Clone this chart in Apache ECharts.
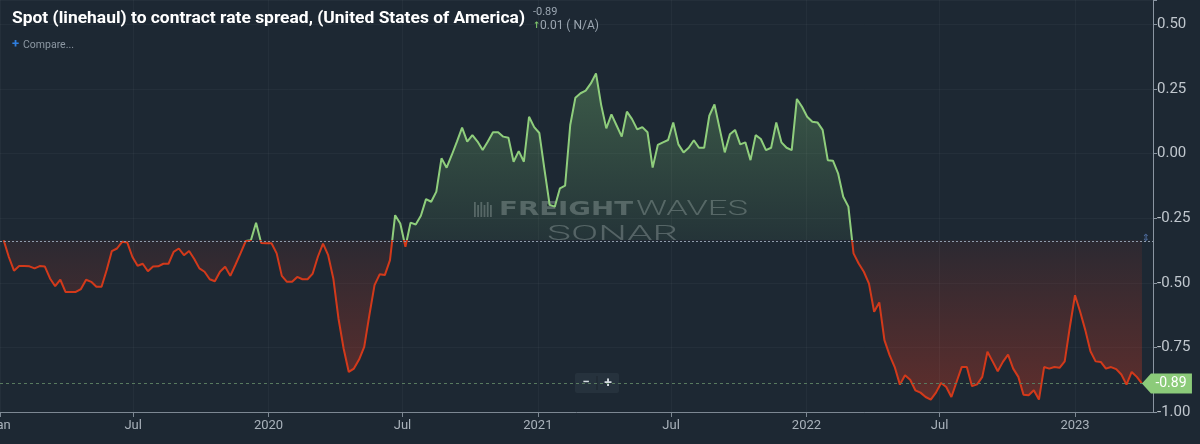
<!DOCTYPE html>
<html>
<head>
<meta charset="utf-8">
<script src="https://cdn.jsdelivr.net/npm/echarts@6/dist/echarts.min.js"></script>
<style>
  html, body { margin: 0; padding: 0; background: #1d2833; }
  #chart { width: 1200px; height: 444px; }
</style>
</head>
<body>
<div id="chart"></div>
<script>
const titleText = 'Spot (linehaul) to contract rate spread, (United States of America)';
const latestText = '-0.89';
const changeText = '0.01 ( N/A)';

// weekly readings, first week of 2019 to early April 2023
const startDate = '2019-01-06';
const stepDays = 7;
const spread = [
  -0.335, -0.40, -0.453, -0.435, -0.435, -0.436, -0.444, -0.435, -0.437, -0.483,
  -0.513, -0.488, -0.535, -0.535, -0.535, -0.524, -0.488, -0.496, -0.515, -0.515,
  -0.45, -0.377, -0.367, -0.341, -0.344, -0.40, -0.434, -0.426, -0.455, -0.437,
  -0.436, -0.426, -0.426, -0.380, -0.367, -0.393, -0.377, -0.408, -0.444, -0.457,
  -0.486, -0.494, -0.457, -0.438, -0.473, -0.43, -0.385, -0.338, -0.335, -0.267,
  -0.346, -0.347, -0.347, -0.386, -0.473, -0.496, -0.496, -0.477, -0.486, -0.486,
  -0.464, -0.399, -0.348, -0.393, -0.483, -0.638, -0.754, -0.845, -0.832, -0.797,
  -0.748, -0.625, -0.509, -0.467, -0.470, -0.412, -0.238, -0.270, -0.360, -0.267,
  -0.274, -0.240, -0.176, -0.186, -0.147, -0.018, -0.054, -0.005, 0.047, 0.101,
  0.047, 0.072, 0.047, 0.014, 0.047, 0.083, 0.083, 0.066, 0.062, -0.031,
  0.010, -0.031, 0.143, 0.103, 0.080, -0.062, -0.198, -0.205, -0.134, -0.124,
  0.111, 0.217, 0.234, 0.244, 0.272, 0.311, 0.189, 0.098, 0.152, 0.109,
  0.066, 0.163, 0.134, 0.094, 0.103, 0.083, -0.054, 0.034, 0.044, 0.053,
  0.121, 0.036, 0.005, 0.023, 0.052, 0.023, 0.023, 0.147, 0.191, 0.098,
  0.005, 0.075, 0.092, 0.036, 0.044, -0.025, 0.072, 0.057, 0.014, 0.023,
  0.121, 0.044, 0.023, 0.014, 0.212, 0.182, 0.143, 0.124, 0.121, 0.092,
  -0.025, -0.027, -0.076, -0.167, -0.205, -0.386, -0.425, -0.457, -0.503, -0.612,
  -0.576, -0.722, -0.780, -0.826, -0.894, -0.858, -0.875, -0.916, -0.925, -0.942,
  -0.952, -0.925, -0.888, -0.903, -0.942, -0.884, -0.826, -0.826, -0.900, -0.893,
  -0.864, -0.767, -0.804, -0.842, -0.806, -0.778, -0.832, -0.864, -0.933, -0.935,
  -0.916, -0.952, -0.826, -0.832, -0.826, -0.829, -0.804, -0.671, -0.548, -0.612,
  -0.683, -0.765, -0.804, -0.806, -0.832, -0.826, -0.834, -0.855, -0.894, -0.845,
  -0.864, -0.89
];

const axisStart = '2019-01-01';
const axisEnd = '2023-04-17';
const tickDates = ['2019-01-01', '2019-07-01', '2020-01-01', '2020-07-01', '2021-01-01',
  '2021-07-01', '2022-01-01', '2022-07-01', '2023-01-01'];
const tickLabels = ['Jan', 'Jul', '2020', 'Jul', '2021', 'Jul', '2022', 'Jul', '2023'];
const yMin = -1, yMax = 0.595, yStep = 0.25, yTop = 0.5;

const DAY = 86400000;
const toTime = (d) => +echarts.time.parse(d);
const t0 = toTime(startDate);
const points = spread.map((v, i) => [t0 + i * stepDays * DAY, v]);
const tickTimes = tickDates.map(toTime);
const base = spread[0];
const last = points[points.length - 1];
const maxV = Math.max(...spread);
const minV = Math.min(...spread);
const split = (maxV - base) / (maxV - minV);

// measure text so condensed / wide faces can be squeezed to the right width
const measureCtx = document.createElement('canvas').getContext('2d');
function widthOf(text, font) {
  measureCtx.font = font;
  return measureCtx.measureText(text).width;
}

const GREEN = '#8fce7c';
const RED = '#d3391a';
const WM = 'rgba(190,198,202,0.33)';
const GRIDLINE = 'rgba(255,255,255,0.035)';

const titleFont = 'bold 17px Roboto';
const freightFont = 'bold 20px "DejaVu Sans"';
const lightFont = '300 20px Roboto';

const chart = echarts.init(document.getElementById('chart'));

chart.setOption({
  animation: false,
  backgroundColor: '#1d2833',
  textStyle: { fontFamily: 'Roboto' },
  grid: { left: 0, right: 47, top: 0, bottom: 32, containLabel: false, outerBoundsMode: 'none' },
  xAxis: {
    type: 'value',
    min: toTime(axisStart),
    max: toTime(axisEnd),
    axisLine: { onZero: false, lineStyle: { color: '#7d8893', width: 1 } },
    axisTick: { show: true, length: 5, customValues: tickTimes, lineStyle: { color: '#7d8893' } },
    axisLabel: {
      customValues: tickTimes,
      color: '#a9b2bb',
      fontSize: 13,
      margin: 7,
      hideOverlap: false,
      alignMinLabel: 'center',
      formatter: (value) => {
        const i = tickTimes.indexOf(value);
        return i < 0 ? '' : tickLabels[i];
      }
    },
    splitLine: { show: false }
  },
  yAxis: {
    type: 'value',
    position: 'right',
    min: yMin,
    max: yMax,
    interval: yStep,
    axisLine: { show: true, lineStyle: { color: '#8a95a1' } },
    axisTick: { show: true, length: 4, lineStyle: { color: '#8a95a1' } },
    axisLabel: {
      color: '#c0c7ce',
      fontSize: 15,
      margin: 4,
      formatter: (v) => (v > yTop + 1e-6 ? '' : v.toFixed(2))
    },
    splitLine: { show: true, lineStyle: { color: GRIDLINE } }
  },
  visualMap: {
    show: false,
    type: 'piecewise',
    seriesIndex: 0,
    dimension: 1,
    pieces: [
      { gte: yMin, lte: base, color: RED },
      { gt: base, lte: yMax, color: GREEN }
    ]
  },
  series: [{
    type: 'line',
    data: points,
    showSymbol: false,
    symbol: 'none',
    lineStyle: { width: 2 },
    areaStyle: {
      origin: base,
      color: new echarts.graphic.LinearGradient(0, 0, 0, 1, [
        { offset: 0, color: 'rgba(115,180,110,0.52)' },
        { offset: split, color: 'rgba(115,180,110,0.12)' },
        { offset: split, color: 'rgba(190,55,35,0.13)' },
        { offset: 1, color: 'rgba(190,55,35,0.58)' }
      ])
    },
    markLine: {
      silent: true,
      symbol: ['none', 'none'],
      label: { show: false },
      data: [
        ...tickTimes.map(t => ({ xAxis: t, lineStyle: { color: GRIDLINE, type: 'solid', width: 1 } })),
        { yAxis: base, lineStyle: { color: '#8f9bab', type: [2, 2], width: 1 } },
        { yAxis: last[1], lineStyle: { color: '#587a5f', type: [3, 3], width: 1 } }
      ]
    },
    markPoint: {
      silent: true,
      symbol: 'path://M0,10L9,0L50,0L50,20L9,20Z',
      symbolSize: [50, 20],
      symbolOffset: [25, 0],
      symbolKeepAspect: false,
      itemStyle: { color: '#8ccb7a' },
      label: {
        show: true,
        position: 'inside',
        offset: [4, 0],
        color: '#ffffff',
        fontSize: 14,
        formatter: (p) => p.value.toFixed(2)
      },
      data: [{ coord: last, value: last[1] }]
    }
  }],
  graphic: [
    // header
    {
      type: 'text', x: 12, y: 19, scaleX: 513 / widthOf(titleText, titleFont),
      style: { text: titleText, font: titleFont, fill: '#ffffff', verticalAlign: 'middle' }
    },
    { type: 'text', x: 533, y: 12, style: { text: latestText, font: '11px Roboto', fill: '#9ba6b1', verticalAlign: 'middle' } },
    { type: 'text', x: 533, y: 26, style: { text: '\u2191', font: 'bold 9px "DejaVu Sans"', fill: '#7cc46a', verticalAlign: 'middle' } },
    { type: 'text', x: 540, y: 26, style: { text: changeText, font: '12px Roboto', fill: '#9ba6b1', verticalAlign: 'middle' } },
    { type: 'text', x: 12, y: 45, style: { text: '+', font: 'bold 13px Roboto', fill: '#2f7fe0', verticalAlign: 'middle' } },
    { type: 'text', x: 23, y: 45, style: { text: 'Compare...', font: '10.5px Roboto', fill: '#8d98a3', verticalAlign: 'middle' } },
    // watermark
    {
      type: 'group', x: 474, y: 202, children: [0, 1, 2, 3, 4, 5].map(k => ({
        type: 'rect', shape: { x: k * 3.2, y: k % 2 ? 3 : 0, width: 1.8, height: k % 2 ? 12 : 15 },
        style: { fill: WM }
      }))
    },
    {
      type: 'text', x: 499, y: 210, scaleX: 134 / widthOf('FREIGHT', freightFont),
      style: { text: 'FREIGHT', font: freightFont, fill: WM, verticalAlign: 'middle' }
    },
    {
      type: 'text', x: 636, y: 210, scaleX: 112 / widthOf('WAVES', lightFont),
      style: { text: 'WAVES', font: lightFont, fill: WM, verticalAlign: 'middle' }
    },
    {
      type: 'text', x: 547, y: 235, scaleX: 131 / widthOf('SONAR', lightFont),
      style: { text: 'SONAR', font: lightFont, fill: WM, verticalAlign: 'middle' }
    },
    // baseline handle
    { type: 'text', x: 1146, y: 238, style: { text: '\u21D5', font: '10px "DejaVu Sans"', fill: '#4e6c9e', align: 'center', verticalAlign: 'middle' }, z: 10 },
    // zoom buttons
    {
      type: 'group', x: 575, y: 373, z: 10, children: [
        { type: 'rect', shape: { x: 0, y: 0, width: 44, height: 20, r: 2 }, style: { fill: '#26323d' } },
        { type: 'line', shape: { x1: 22, y1: 3, x2: 22, y2: 17 }, style: { stroke: '#1c252e', lineWidth: 1 } },
        { type: 'text', x: 11, y: 10, style: { text: '\u2212', font: 'bold 13px Roboto', fill: '#d6dce2', align: 'center', verticalAlign: 'middle' } },
        { type: 'text', x: 33, y: 10, style: { text: '+', font: 'bold 14px Roboto', fill: '#d6dce2', align: 'center', verticalAlign: 'middle' } }
      ]
    }
  ]
});
</script>
</body>
</html>
